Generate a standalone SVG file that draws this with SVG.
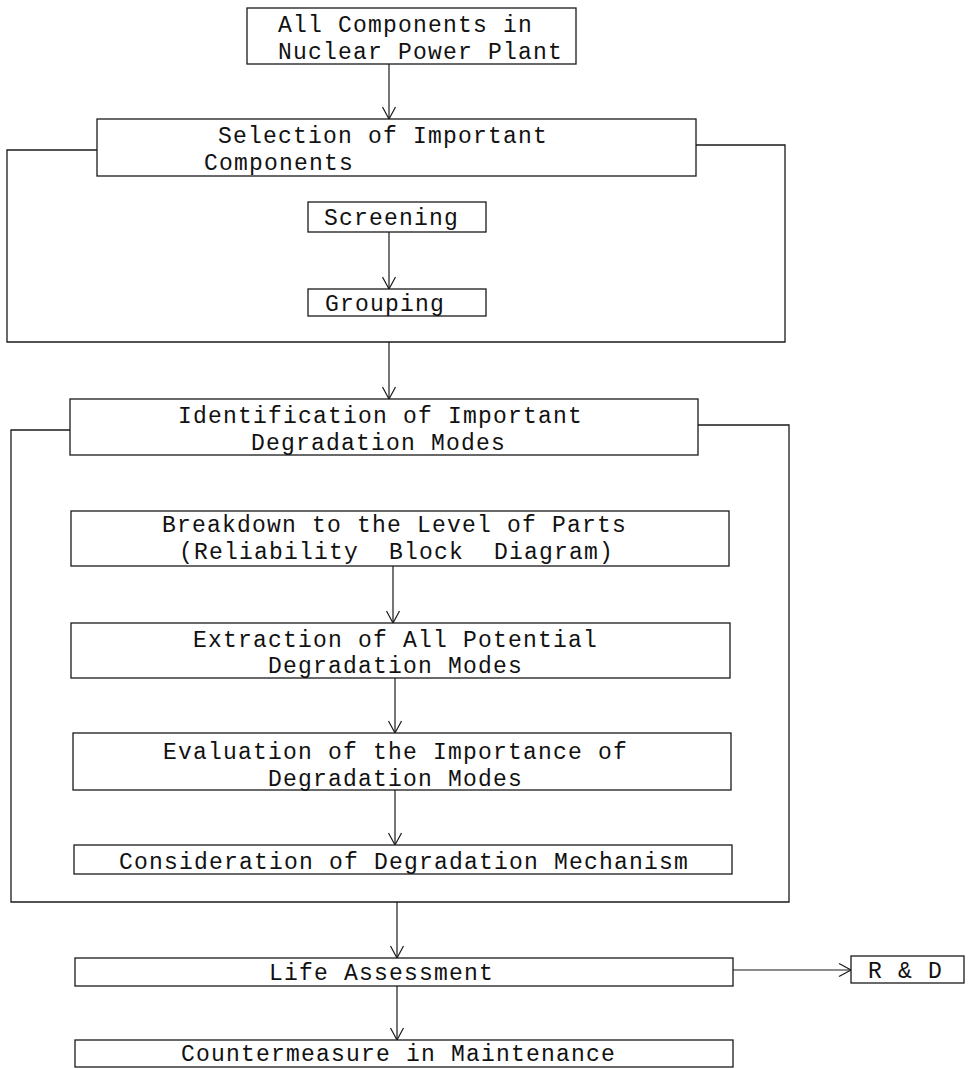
<svg xmlns="http://www.w3.org/2000/svg" width="969" height="1069" viewBox="0 0 969 1069">
<style>
.box{fill:#fff;stroke:#1a1a1a;stroke-width:1.3}
.frame{fill:none;stroke:#1a1a1a;stroke-width:1.3}
.t{font-family:"Liberation Mono","DejaVu Sans Mono",monospace;font-size:23px;letter-spacing:1.2px;fill:#111;white-space:pre}
.c{fill:none;stroke:#1a1a1a;stroke-width:1.2}
</style>
<defs>
<marker id="ah" markerUnits="userSpaceOnUse" markerWidth="20" markerHeight="20" refX="0" refY="0" orient="auto" overflow="visible">
<path d="M-12,-6.5 L0,0 L-12,6.5" fill="none" stroke="#1a1a1a" stroke-width="1.2"/>
</marker>
</defs>
<rect width="969" height="1069" fill="#fff"/>
<g id="frames">
<path class="frame" d="M97,150 H7 V342 H785 V145 H696"/>
<path class="frame" d="M70,430 H11 V902 H789 V425 H698"/>
</g>
<g id="connectors">
<line class="c" x1="389" y1="64" x2="389" y2="119" marker-end="url(#ah)"/>
<line class="c" x1="389" y1="232" x2="389" y2="289" marker-end="url(#ah)"/>
<line class="c" x1="389" y1="342" x2="389" y2="399" marker-end="url(#ah)"/>
<line class="c" x1="393" y1="566" x2="393" y2="623" marker-end="url(#ah)"/>
<line class="c" x1="395" y1="678" x2="395" y2="733" marker-end="url(#ah)"/>
<line class="c" x1="395" y1="790" x2="395" y2="845" marker-end="url(#ah)"/>
<line class="c" x1="397" y1="902" x2="397" y2="958" marker-end="url(#ah)"/>
<line class="c" x1="733" y1="970" x2="851" y2="970" marker-end="url(#ah)"/>
<line class="c" x1="397" y1="986" x2="397" y2="1040" marker-end="url(#ah)"/>
</g>
<g id="n-all">
<rect class="box" x="247" y="8" width="329" height="56"/>
<text class="t" x="278" y="32">All Components in</text>
<text class="t" x="278" y="59">Nuclear Power Plant</text>
</g>
<g id="n-selection">
<rect class="box" x="97" y="119" width="599" height="57"/>
<text class="t" x="218" y="143">Selection of Important</text>
<text class="t" x="204" y="170">Components</text>
</g>
<g id="n-screening">
<rect class="box" x="308" y="202" width="178" height="30"/>
<text class="t" x="324" y="225">Screening</text>
</g>
<g id="n-grouping">
<rect class="box" x="308" y="289" width="178" height="27"/>
<text class="t" x="325" y="311">Grouping</text>
</g>
<g id="n-identification">
<rect class="box" x="70" y="399" width="628" height="56"/>
<text class="t" x="178" y="423">Identification of Important</text>
<text class="t" x="251" y="450">Degradation Modes</text>
</g>
<g id="n-breakdown">
<rect class="box" x="71" y="511" width="658" height="55"/>
<text class="t" x="162" y="532">Breakdown to the Level of Parts</text>
<text class="t" x="179" y="559" xml:space="preserve">(Reliability  Block  Diagram)</text>
</g>
<g id="n-extraction">
<rect class="box" x="71" y="623" width="659" height="55"/>
<text class="t" x="193" y="647">Extraction of All Potential</text>
<text class="t" x="268" y="673">Degradation Modes</text>
</g>
<g id="n-evaluation">
<rect class="box" x="73" y="733" width="658" height="57"/>
<text class="t" x="163" y="759">Evaluation of the Importance of</text>
<text class="t" x="268" y="786">Degradation Modes</text>
</g>
<g id="n-consideration">
<rect class="box" x="74" y="845" width="658" height="29"/>
<text class="t" x="119" y="869">Consideration of Degradation Mechanism</text>
</g>
<g id="n-life">
<rect class="box" x="75" y="958" width="658" height="28"/>
<text class="t" x="269" y="980">Life Assessment</text>
</g>
<g id="n-rd">
<rect class="box" x="851" y="956" width="113" height="27"/>
<text class="t" x="868" y="978">R &amp; D</text>
</g>
<g id="n-countermeasure">
<rect class="box" x="75" y="1040" width="658" height="27"/>
<text class="t" x="181" y="1061">Countermeasure in Maintenance</text>
</g>
</svg>
